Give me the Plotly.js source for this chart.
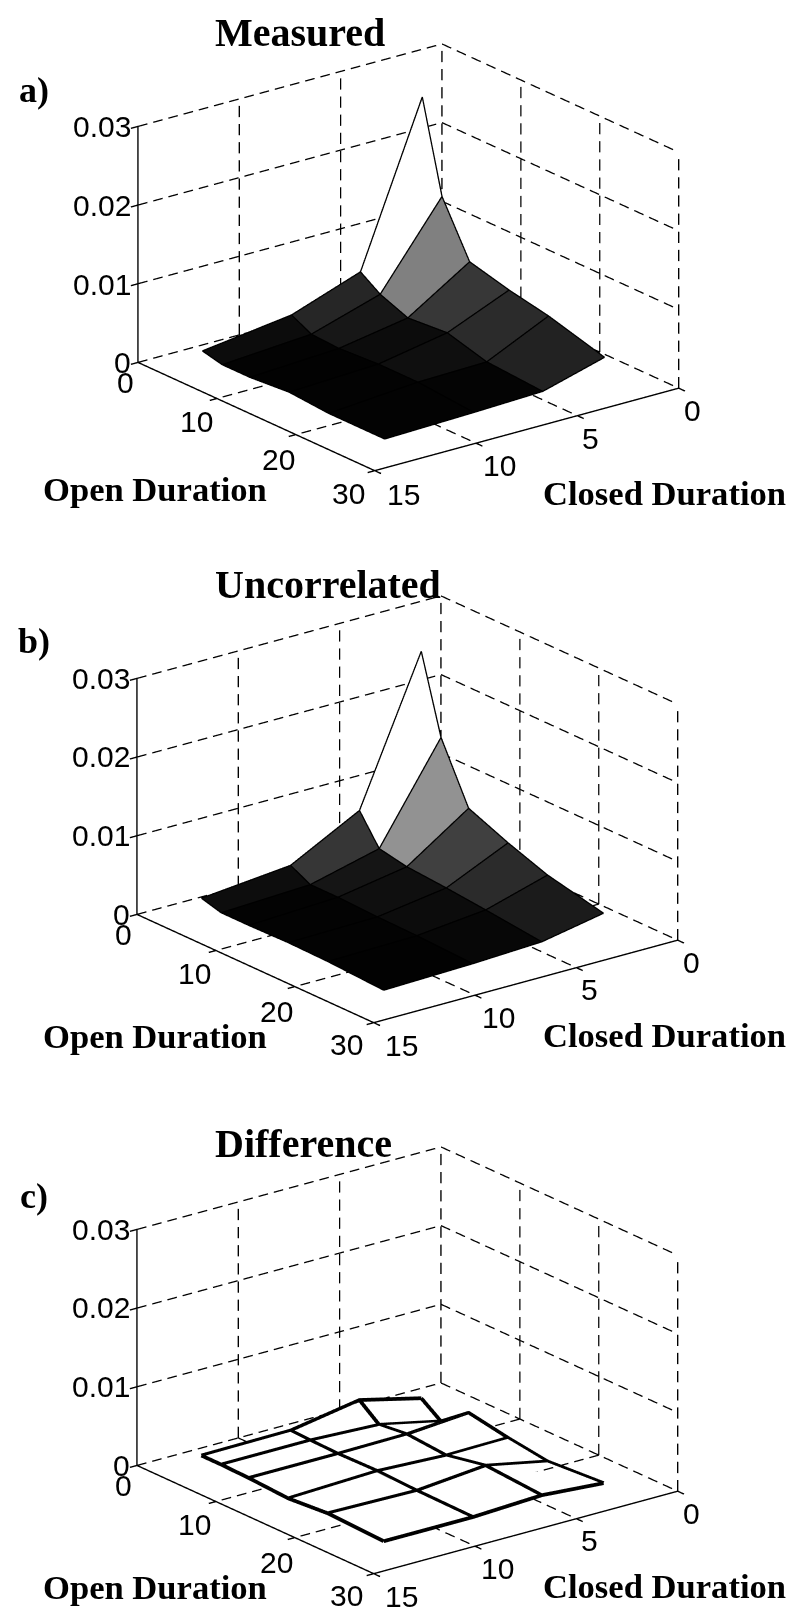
<!DOCTYPE html>
<html><head><meta charset="utf-8"><script src="https://cdn.plot.ly/plotly-3.0.1.min.js"></script>
<style>html,body{margin:0;padding:0;background:#fff}</style></head><body><div id="gd" style="width:800px;height:1621px"></div>
<script>
var openBins=[2,4.5,8,13,18,25.1];
var closedBins=[1.75,4.8,8.2,12.6];
// rows: closed bin, columns: open bin
var measured=[[.0254,.0139,.0072,.0059,.0049,.0029],[.0053,.0036,.0022,.0026,.0012,.0007],[.0022,.0009,.0007,.001,.001,.0004],[.0007,.0001,.0001,.0005,.0001,.0001]];
var uncorrelated=[[.0251,.0153,.0079,.0058,.004,.0024],[.007,.0033,.0026,.0022,.0017,.0009],[.0024,.0011,.0011,.0009,.0008,.0005],[.0013,.0006,.0006,.0007,.0006,.0002]];
var difference=[[.0002,-.0016,.0011,.0002,-.0005,0],[.0021,.0001,.0005,.0001,.0011,.0006],[.0006,.0005,.0004,.0005,.0003,.0002],[.0005,.0005,.0004,.0001,.0005,.0002]];
var openTicks=[0,10,20,30], closedTicks=[0,5,10,15], zTicks=[0,.01,.02,.03];
var zTickText=['0','0.01','0.02','0.03'];
var panelTitles=['Measured','Uncorrelated','Difference'], panelTags=['a)','b)','c)'];
var openName='Open Duration', closedName='Closed Duration';

var dist=2, az=52.39*Math.PI/180, el=20.63*Math.PI/180;
var dir={x:Math.cos(el)*Math.cos(az),y:Math.cos(el)*Math.sin(az),z:Math.sin(el)};
var eye={x:dist*dir.x,y:dist*dir.y,z:dist*dir.z};
var xRange=[0,15.6], yRange=[0,31.2], zRange=[-.003,.031];
var aspect={x:1.6288,y:1.6466,z:1.1666};
var offs=[0,551.5,1102.5], xOffs=[0,-1.3,-1.5], H=1621, boxH=490;
var titleY=[33,584,1143], tagY=[90,641,1196], openY=[489,1036,1587], closedY=[493,1035,1586];
var grayScale=[[0,'#000'],[.05,'#040404'],[.1,'#0f0f0f'],[.2,'#242424'],[.28,'#363636'],[.55,'#808080'],[1,'#fff']];

function meshTrace(Z,scene,plain){
  var X=[],Y=[],W=[],I=[],J=[],K=[],C=[],nc=closedBins.length,no=openBins.length;
  closedBins.forEach(function(c,j){openBins.forEach(function(o,i){X.push(c);Y.push(o);W.push(Z[j][i]);});});
  for(var j=0;j<nc-1;j++)for(var i=0;i<no-1;i++){var a=j*no+i,b=a+1,d=a+no,e=d+1;I.push(a,a);J.push(b,e);K.push(e,d);C.push(Z[j][i],Z[j][i]);}
  var t={type:'mesh3d',scene:scene,x:X,y:Y,z:W,i:I,j:J,k:K,flatshading:true,showscale:false,hoverinfo:'skip',
    lighting:{ambient:1,diffuse:0,specular:0,roughness:1,fresnel:0}};
  if(plain){t.color='#ffffff';}else{t.intensity=C;t.intensitymode='cell';t.colorscale=grayScale;t.cmin=0;t.cmax=Math.max.apply(null,Z[0]);}
  return t;
}
// mesh edges: nudged towards the camera so they are not buried in the faces
function edgeTrace(Z,scene,w){
  var X=[],Y=[],W=[],e=.012,dx=dir.x*e*(xRange[1]-xRange[0])/aspect.x,dy=dir.y*e*(yRange[1]-yRange[0])/aspect.y,dz=dir.z*e*(zRange[1]-zRange[0])/aspect.z;
  function P(c,o,z){X.push(c+dx);Y.push(o+dy);W.push(z+dz);}
  function B(){X.push(null);Y.push(null);W.push(null);}
  closedBins.forEach(function(c,j){openBins.forEach(function(o,i){P(c,o,Z[j][i]);});B();});
  openBins.forEach(function(o,i){closedBins.forEach(function(c,j){P(c,o,Z[j][i]);});B();});
  return {type:'scatter3d',mode:'lines',scene:scene,x:X,y:Y,z:W,line:{color:'#000',width:w},hoverinfo:'skip',showlegend:false};
}
function gridTrace(scene){
  var X=[],Y=[],W=[];
  function seg(a,b,n){for(var q=0;q<n;q++){var s=q/n,t=(q+.62)/n;
    X.push(a[0]+(b[0]-a[0])*s,a[0]+(b[0]-a[0])*t,null);
    Y.push(a[1]+(b[1]-a[1])*s,a[1]+(b[1]-a[1])*t,null);
    W.push(a[2]+(b[2]-a[2])*s,a[2]+(b[2]-a[2])*t,null);}}
  var xm=closedTicks[3],ym=openTicks[3],zm=zTicks[3];
  zTicks.forEach(function(z){seg([xm,0,z],[0,0,z],20);seg([0,0,z],[0,ym,z],16);});
  closedTicks.slice(0,3).forEach(function(c){seg([c,0,0],[c,0,zm],13);seg([c,0,0],[c,ym,0],16);});
  openTicks.slice(1).forEach(function(o){seg([0,o,0],[0,o,zm],13);if(o<ym)seg([0,o,0],[xm,o,0],20);});
  return {type:'scatter3d',mode:'lines',scene:scene,x:X,y:Y,z:W,line:{color:'#000',width:2.6},hoverinfo:'skip',showlegend:false};
}
function axisTrace(scene){
  var X=[],Y=[],W=[];
  function seg(a,b){X.push(a[0],b[0],null);Y.push(a[1],b[1],null);W.push(a[2],b[2],null);}
  var xm=closedTicks[3],ym=openTicks[3],zm=zTicks[3];
  seg([xm,0,0],[xm,0,zm]);seg([xm,0,0],[xm,ym,0]);seg([0,ym,0],[xm,ym,0]);
  zTicks.forEach(function(z){seg([xm,0,z],[xm+.35,0,z]);});
  openTicks.forEach(function(o){seg([xm,o,0],[xm+.35,o,0]);});
  closedTicks.forEach(function(c){seg([c,ym,0],[c,ym+.8,0]);});
  return {type:'scatter3d',mode:'lines',scene:scene,x:X,y:Y,z:W,line:{color:'#000',width:2.8},hoverinfo:'skip',showlegend:false};
}
function ax(range,ticks){return {visible:false,range:range,autorange:false,tickmode:'array',tickvals:ticks,showspikes:false};}
function sceneAnn(x,y,z,t,xs,ys,anchor){return {x:x,y:y,z:z,text:t,showarrow:false,xshift:xs,yshift:ys,xanchor:anchor||'center',yanchor:'middle',font:{family:'Liberation Sans',size:30,color:'#000'}};}
var closedShift=[[14,-22],[13,-22],[23,-22],[28,-23]], openShift=[[-13,-20],[-21,-23],[-18,-25],[-27,-22]];
function sceneLayout(){
  var ann=[];
  closedTicks.forEach(function(c,k){ann.push(sceneAnn(c,openTicks[3],0,String(c),closedShift[k][0],closedShift[k][1]));});
  openTicks.forEach(function(o,k){ann.push(sceneAnn(closedTicks[3],o,0,String(o),openShift[k][0],openShift[k][1]));});
  zTicks.forEach(function(z,k){ann.push(sceneAnn(closedTicks[3],0,z,zTickText[k],-5,0,'right'));});
  return {camera:{eye:eye,center:{x:0,y:0,z:0},up:{x:0,y:0,z:1},projection:{type:'orthographic'}},
    aspectmode:'manual',aspectratio:aspect,dragmode:false,
    xaxis:ax(xRange,closedTicks),yaxis:ax(yRange,openTicks),zaxis:ax(zRange,zTicks),annotations:ann};
}
var layout={width:800,height:1621,margin:{l:0,r:0,t:0,b:0},paper_bgcolor:'#fff',showlegend:false,annotations:[]};
var data=[];
[measured,uncorrelated,difference].forEach(function(Z,p){
  var name=p?'scene'+(p+1):'scene', top=24.3+offs[p];
  layout[name]=sceneLayout();
  layout[name].domain={x:[(16.3+xOffs[p])/800,(798.3+xOffs[p])/800],y:[1-(top+boxH)/H,1-top/H]};
  data.push(gridTrace(name),axisTrace(name),meshTrace(Z,name,p===2),edgeTrace(Z,name,p===2?7.5:2.6));
  function A(x,y,t,sz,an){layout.annotations.push({xref:'paper',yref:'paper',x:x/800,y:1-y/H,text:t,showarrow:false,xanchor:an||'center',yanchor:'middle',font:{family:'Liberation Serif',size:sz,color:'#000'}});}
  A(213,titleY[p],'<b>'+panelTitles[p]+'</b>',40,'left');
  A(34,tagY[p],'<b>'+panelTags[p]+'</b>',36);
  A(154.5,openY[p],'<b>'+openName+'</b>',34.6);
  A(664,closedY[p],'<b>'+closedName+'</b>',34.6);
});
Plotly.newPlot('gd',data,layout,{displayModeBar:false});
</script></body></html>
